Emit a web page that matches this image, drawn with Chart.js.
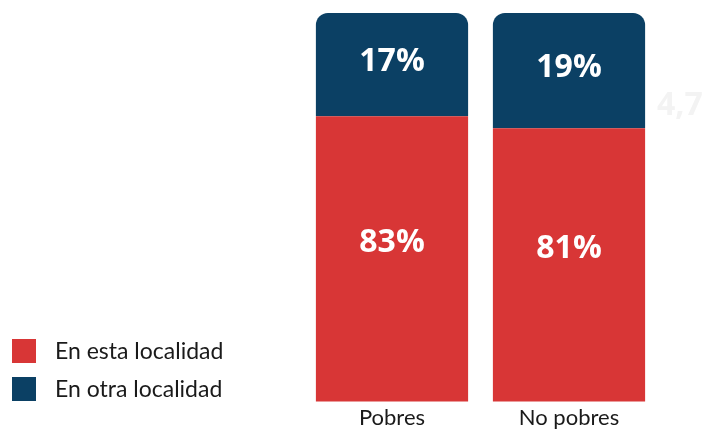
<!DOCTYPE html>
<html>
<head>
<meta charset="utf-8">
<script src="https://cdn.jsdelivr.net/npm/chart.js@4"></script>
<style>
  html, body { margin: 0; padding: 0; background: #ffffff; }
  #wrap { width: 702px; height: 429px; position: relative; }
</style>
</head>
<body>
<div id="wrap"><canvas id="myChart"></canvas></div>
<script>
// data
const categories = ['Pobres', 'No pobres'];
const en_esta = [83, 81];
const en_otra = [17, 19];
const series_labels = ['En esta localidad', 'En otra localidad'];
const series_colors = ['#D83636', '#0B4064'];
const ghost_text = '4,7';

// labels in the middle of each segment (bottom clipped to the chart area)
const segmentLabels = {
  id: 'segmentLabels',
  afterDatasetsDraw(chart) {
    const ctx = chart.ctx;
    const bottom = chart.chartArea.bottom;
    ctx.save();
    ctx.fillStyle = '#ffffff';
    ctx.font = 'bold 32px "Open Sans"';
    ctx.textAlign = 'center';
    ctx.textBaseline = 'middle';
    chart.data.datasets.forEach((ds, i) => {
      const meta = chart.getDatasetMeta(i);
      const shift = i === 0 ? -16 : -3;
      meta.data.forEach((bar, j) => {
        const y = (bar.y + Math.min(bar.base, bottom)) / 2 + shift;
        ctx.fillText(ds.data[j] + '%', bar.x, y);
      });
    });
    ctx.restore();
  }
};

// legend at the bottom left, plus the faded number on the right edge
const sideLegend = {
  id: 'sideLegend',
  afterDraw(chart) {
    const ctx = chart.ctx;
    ctx.save();
    ctx.font = '23px Lato';
    ctx.textBaseline = 'middle';
    ctx.textAlign = 'left';
    chart.data.datasets.forEach((ds, i) => {
      const top = 339 + i * 38;
      ctx.fillStyle = ds.backgroundColor;
      ctx.fillRect(12, top, 24, 24);
      ctx.fillStyle = '#1a1a1a';
      ctx.fillText(ds.label, 55, top + 13);
    });
    ctx.font = 'bold 32px "Open Sans"';
    ctx.fillStyle = '#f3f3f3';
    ctx.textBaseline = 'alphabetic';
    ctx.fillText(ghost_text, 657, 115);
    ctx.restore();
  }
};

const ctx = document.getElementById('myChart').getContext('2d');
const myChart = new Chart(ctx, {
  type: 'bar',
  data: {
    labels: categories,
    datasets: [{
      label: series_labels[0],
      data: en_esta,
      backgroundColor: series_colors[0],
      borderWidth: 0
    }, {
      label: series_labels[1],
      data: en_otra,
      backgroundColor: series_colors[1],
      borderWidth: 0,
      borderRadius: { topLeft: 12, topRight: 12 },
      borderSkipped: 'start'
    }]
  },
  options: {
    responsive: true,
    maintainAspectRatio: false,
    animation: false,
    layout: { padding: { left: 303.5, right: 44.5, top: 13, bottom: -5.5 } },
    datasets: { bar: { barPercentage: 1, categoryPercentage: 0.86 } },
    scales: {
      x: {
        stacked: true,
        grid: { display: false, drawTicks: false, tickLength: 0 },
        border: { display: false },
        ticks: { color: '#1a1a1a', padding: 5.5, font: { family: 'Lato', size: 22, lineHeight: 1.0 } }
      },
      y: {
        stacked: true,
        display: false,
        min: 36,
        max: 100
      }
    },
    plugins: {
      legend: { display: false },
      tooltip: { enabled: false }
    }
  },
  plugins: [segmentLabels, sideLegend]
});
</script>
</body>
</html>
